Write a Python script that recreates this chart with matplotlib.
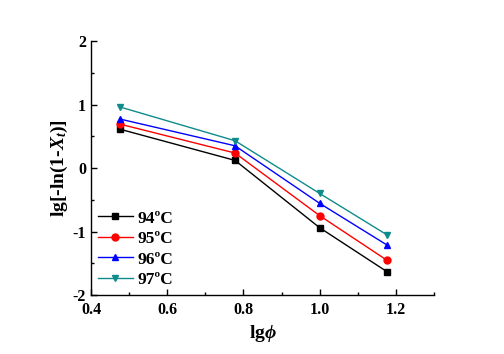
import matplotlib.pyplot as plt
from matplotlib.ticker import MultipleLocator

plt.rcParams['font.family'] = ['Liberation Serif', 'DejaVu Serif']
plt.rcParams['font.weight'] = 'bold'
plt.rcParams['axes.unicode_minus'] = False
plt.rcParams['mathtext.fontset'] = 'custom'
plt.rcParams['mathtext.rm'] = 'Liberation Serif:bold'
plt.rcParams['mathtext.it'] = 'Liberation Serif:italic:bold'
plt.rcParams['mathtext.bf'] = 'Liberation Serif:bold'

# lg(phi) for phi = 3, 6, 10, 15
lg_phi = [0.477, 0.778, 1.0, 1.176]
y_94 = [0.61, 0.12, -0.94, -1.63]
y_95 = [0.69, 0.236, -0.75, -1.45]
y_96 = [0.77, 0.35, -0.556, -1.21]
y_97 = [0.96, 0.43, -0.40, -1.05]

labels = ["94ºC", "95ºC", "96ºC", "97ºC"]
colors = ["black", "red", "blue", "#0e8c8c"]
markers = ["s", "o", "^", "v"]

fig = plt.figure(figsize=(5.04, 3.54), dpi=100)
ax = fig.add_axes([0.1806, 0.1667, 0.861 - 0.1806, 0.884 - 0.1667])

for ys, lab, c, m in zip([y_94, y_95, y_96, y_97], labels, colors, markers):
    ax.plot(lg_phi, ys, color=c, marker=m, markersize=5, linewidth=1, label=lab)

ax.set_xlim(0.4, 1.3)
ax.set_ylim(-2, 2)
ax.xaxis.set_minor_locator(MultipleLocator(0.1))
ax.yaxis.set_major_locator(MultipleLocator(1))
ax.yaxis.set_minor_locator(MultipleLocator(0.5))
ax.set_xticks([0.4, 0.6, 0.8, 1.0, 1.2])
ax.set_xticklabels(["0.4", "0.6", "0.8", "1.0", "1.2"])
ax.tick_params(which='both', direction='in', labelsize=11.5, width=1)
ax.tick_params(which='major', length=4)
ax.tick_params(which='minor', length=2)
ax.tick_params(axis='x', pad=5)
for lbl in ax.get_xticklabels() + ax.get_yticklabels():
    lbl.set_fontweight('bold')

ax.spines['top'].set_visible(False)
ax.spines['right'].set_visible(False)
ax.spines['left'].set_linewidth(1)
ax.spines['bottom'].set_linewidth(1)

ax.set_xlabel(r"lg$\it{\phi}$", fontsize=14, fontweight='bold', labelpad=4)
ax.set_ylabel(r"lg[-ln(1-$X_t$)]", fontsize=14, fontweight='bold', labelpad=2)

ax.legend(loc='lower left', frameon=False, fontsize=12.5, handlelength=2.0,
          handletextpad=0.3, labelspacing=0.25, borderaxespad=0.1,
          borderpad=0.3, bbox_to_anchor=(0.0, 0.0))

plt.savefig("out.png", dpi=100)
